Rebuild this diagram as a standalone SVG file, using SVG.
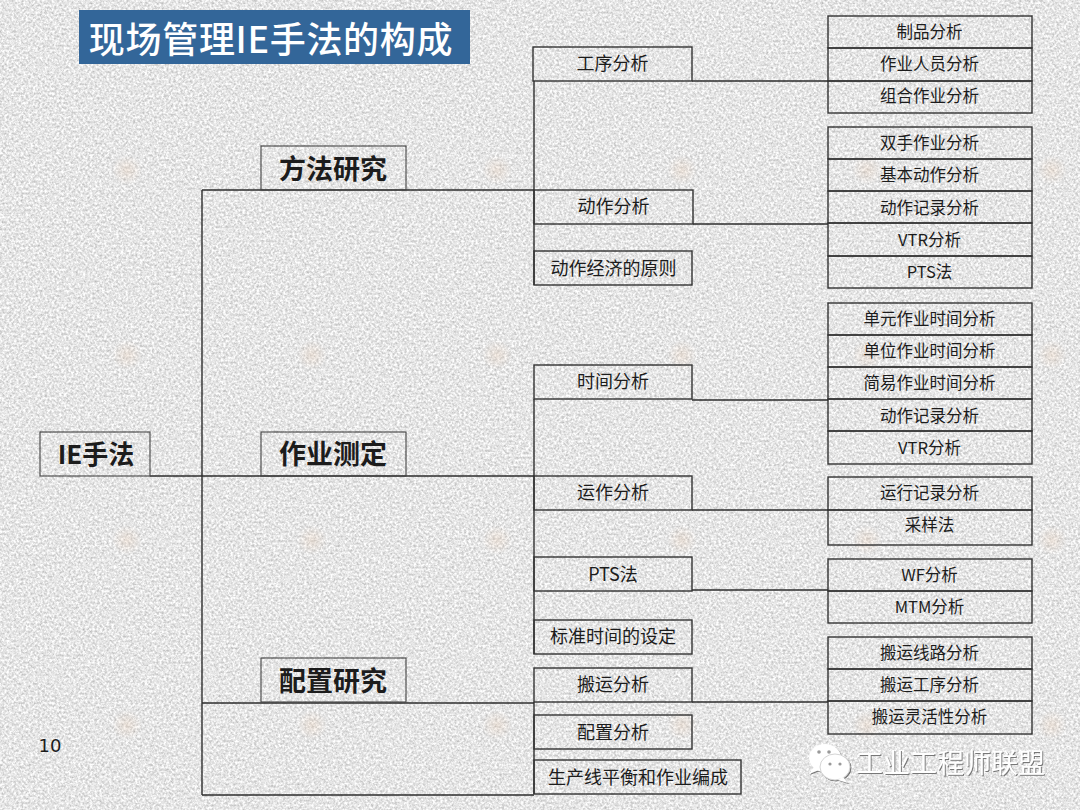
<svg xmlns="http://www.w3.org/2000/svg" width="1080" height="810" viewBox="0 0 1080 810">
<style>
text{font-family:"Noto Sans CJK SC","Liberation Sans",sans-serif;fill:#1c1c1c;text-anchor:middle;dominant-baseline:central}
.box{fill:none;stroke:#333;stroke-width:1.4}
.thin{fill:none;stroke:#444;stroke-width:1.1}
.conn{fill:none;stroke:#2e2e2e;stroke-width:1.4}
.l1{font-size:27px;font-weight:700}
.l2{font-size:18px}
.l3{font-size:16.5px}
</style>
<defs>
<filter id="grain" x="0" y="0" width="100%" height="100%" color-interpolation-filters="sRGB">
<feTurbulence type="fractalNoise" baseFrequency="0.42" numOctaves="4" seed="7"/>
<feColorMatrix type="matrix" values="0.42 0 0 0 0.69 0.42 0 0 0 0.69 0.42 0 0 0 0.69 0 0 0 0 1"/>
</filter>
<radialGradient id="blot"><stop offset="0" stop-color="#e8c9ae" stop-opacity=".3"/><stop offset="1" stop-color="#e8c9ae" stop-opacity="0"/></radialGradient>
<pattern id="blots" x="112" y="155" width="185" height="185" patternUnits="userSpaceOnUse"><ellipse cx="15" cy="15" rx="15" ry="15" fill="url(#blot)"/></pattern>
<filter id="shade" x="-10%" y="-20%" width="120%" height="140%"><feDropShadow dx="1" dy="1" stdDeviation="0.6" flood-color="#777"/></filter>
</defs>
<rect id="background" width="1080" height="810" fill="#e6e6e6"/>
<rect width="1080" height="810" filter="url(#grain)"/>
<rect width="1080" height="810" fill="url(#blots)"/>
<g id="title">
<rect x="79" y="10" width="391" height="54" fill="#336699"/>
<text x="271" y="37" font-size="36" font-weight="500" letter-spacing="0.7" style="fill:#fff">现场管理IE手法的构成</text>
</g>
<g id="connectors" class="conn">
<path d="M202 190V795M202 190H534M150 476H534M202 703H534M202 795H534"/>
<path d="M534 81V285M534 399V654M534 702V794"/>
<path d="M692 81H828M693 224H828M692 400H828M692 510H828M692 590H828M692 702H828"/>
</g>
<g id="n-root"><rect class="thin" x="40" y="432" width="110" height="44"/><text x="96" y="452" font-size="26" font-weight="700">IE手法</text></g>
<g id="n-method"><rect class="thin" x="261" y="146" width="145" height="44"/><text class="l1" x="333" y="167">方法研究</text></g>
<g id="n-measure"><rect class="thin" x="261" y="432" width="145" height="44"/><text class="l1" x="333" y="452">作业测定</text></g>
<g id="n-layout"><rect class="thin" x="261" y="658" width="145" height="44"/><text class="l1" x="333" y="679">配置研究</text></g>

<g id="m1"><rect class="box" x="533" y="47" width="159" height="34"/><text class="l2" x="612.5" y="62">工序分析</text></g>
<g id="m2"><rect class="box" x="534" y="190" width="159" height="34"/><text class="l2" x="613.5" y="205">动作分析</text></g>
<g id="m3"><rect class="box" x="534" y="251" width="158" height="34"/><text class="l2" x="613.5" y="267">动作经济的原则</text></g>
<g id="m4"><rect class="box" x="534" y="365" width="158" height="34"/><text class="l2" x="613" y="380">时间分析</text></g>
<g id="m5"><rect class="box" x="534" y="476" width="158" height="34"/><text class="l2" x="613" y="491">运作分析</text></g>
<g id="m6"><rect class="box" x="534" y="557" width="158" height="34"/><text class="l2" x="613" y="573">PTS法</text></g>
<g id="m7"><rect class="box" x="534" y="620" width="158" height="34"/><text class="l2" x="613" y="635">标准时间的设定</text></g>
<g id="m8"><rect class="box" x="534" y="668" width="158" height="34"/><text class="l2" x="613" y="683">搬运分析</text></g>
<g id="m9"><rect class="box" x="534" y="715" width="158" height="34"/><text class="l2" x="613" y="731">配置分析</text></g>
<g id="m10"><rect class="box" x="534" y="760" width="207" height="34"/><text class="l2" x="638" y="776">生产线平衡和作业编成</text></g>

<g id="r1"><rect class="box" x="828" y="16" width="204" height="32"/><text class="l3" x="929.500" y="31">制品分析</text></g>
<g id="r2"><rect class="box" x="828" y="48" width="204" height="33"/><text class="l3" x="929.500" y="63">作业人员分析</text></g>
<g id="r3"><rect class="box" x="828" y="81" width="204" height="32"/><text class="l3" x="929.500" y="95">组合作业分析</text></g>
<g id="r4"><rect class="box" x="828" y="127" width="204" height="32"/><text class="l3" x="929.500" y="142">双手作业分析</text></g>
<g id="r5"><rect class="box" x="828" y="159" width="204" height="32"/><text class="l3" x="929.500" y="174">基本动作分析</text></g>
<g id="r6"><rect class="box" x="828" y="191" width="204" height="32"/><text class="l3" x="929.500" y="207">动作记录分析</text></g>
<g id="r7"><rect class="box" x="828" y="223" width="204" height="33"/><text class="l3" x="929.500" y="239">VTR分析</text></g>
<g id="r8"><rect class="box" x="828" y="256" width="204" height="32"/><text class="l3" x="929.500" y="271">PTS法</text></g>
<g id="r9"><rect class="box" x="828" y="303" width="204" height="32"/><text class="l3" x="929.500" y="318">单元作业时间分析</text></g>
<g id="r10"><rect class="box" x="828" y="335" width="204" height="32"/><text class="l3" x="929.500" y="350">单位作业时间分析</text></g>
<g id="r11"><rect class="box" x="828" y="367" width="204" height="32"/><text class="l3" x="929.500" y="382">简易作业时间分析</text></g>
<g id="r12"><rect class="box" x="828" y="399" width="204" height="32"/><text class="l3" x="929.500" y="415">动作记录分析</text></g>
<g id="r13"><rect class="box" x="828" y="431" width="204" height="33"/><text class="l3" x="929.500" y="447">VTR分析</text></g>
<g id="r14"><rect class="box" x="828" y="477" width="204" height="33"/><text class="l3" x="929.500" y="492">运行记录分析</text></g>
<g id="r15"><rect class="box" x="828" y="510" width="204" height="35"/><text class="l3" x="929.500" y="524">采样法</text></g>
<g id="r16"><rect class="box" x="828" y="559" width="204" height="32"/><text class="l3" x="929.500" y="574">WF分析</text></g>
<g id="r17"><rect class="box" x="828" y="591" width="204" height="32"/><text class="l3" x="929.500" y="606">MTM分析</text></g>
<g id="r18"><rect class="box" x="828" y="637" width="204" height="32"/><text class="l3" x="929.500" y="652">搬运线路分析</text></g>
<g id="r19"><rect class="box" x="828" y="669" width="204" height="32"/><text class="l3" x="929.500" y="684">搬运工序分析</text></g>
<g id="r20"><rect class="box" x="828" y="701" width="204" height="33"/><text class="l3" x="929.500" y="716">搬运灵活性分析</text></g>

<text id="page" x="50" y="745" font-size="18" style="font-family:'DejaVu Sans',sans-serif">10</text>

<g id="watermark" filter="url(#shade)">
<ellipse cx="825" cy="758" rx="16" ry="14" fill="#fff"/>
<path d="M814 767l-5 7 10-4z" fill="#fff"/>
<ellipse cx="835" cy="767" rx="15" ry="13" fill="#fff" stroke="#d5d5d5" stroke-width="1"/>
<path d="M843 777l5 6-10-3z" fill="#fff"/>
<circle cx="819" cy="752" r="1.800" fill="#999"/><circle cx="829" cy="752" r="1.800" fill="#999"/>
<circle cx="830" cy="764" r="1.600" fill="#999"/><circle cx="840" cy="764" r="1.600" fill="#999"/>
<text x="950.500" y="761" font-size="27" style="fill:#fff">工业工程师联盟</text>
</g>
</svg>
